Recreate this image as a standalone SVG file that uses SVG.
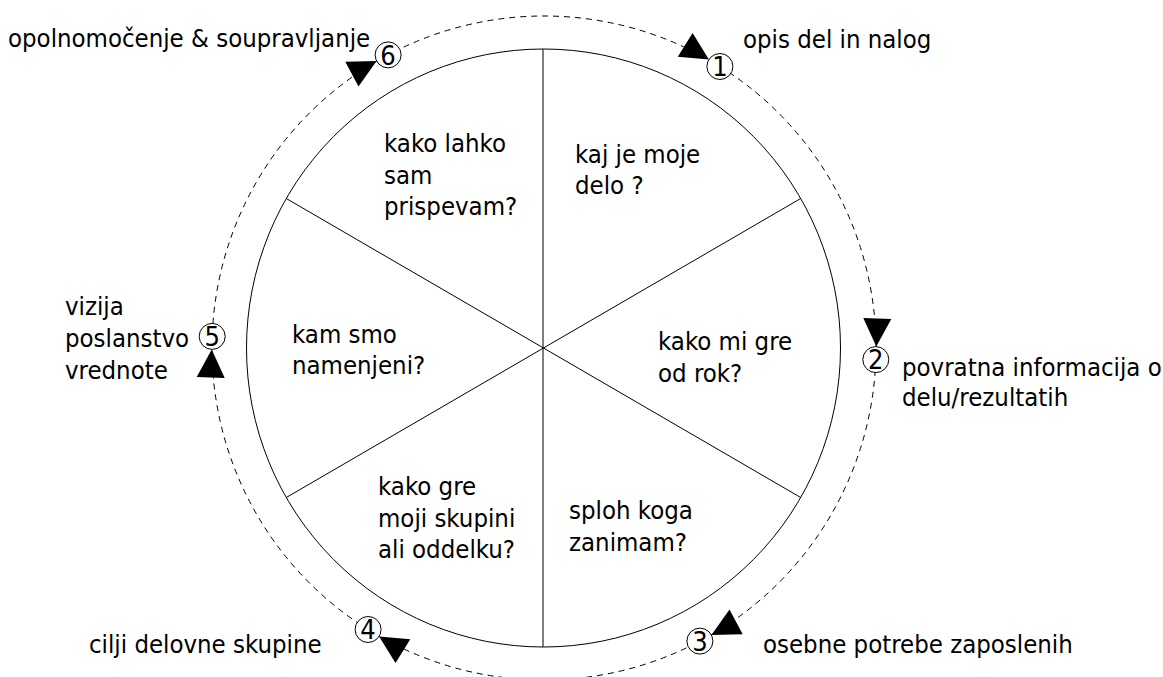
<svg xmlns="http://www.w3.org/2000/svg" width="1163" height="677" viewBox="0 0 1163 677">
<style>
text{font-family:"DejaVu Sans Condensed","DejaVu Sans",sans-serif;font-size:25.5px;fill:#000}
.num{font-size:27px;text-anchor:middle}
.node{fill:#fff;stroke:#000;stroke-width:1}
.arr{fill:#000;stroke:none}
.wheel{fill:none;stroke:#000;stroke-width:1}
</style>
<rect width="1163" height="677" fill="#fff"/>
<g id="connectors">
<circle cx="544" cy="348" r="332" fill="none" stroke="#000" stroke-width="1" stroke-dasharray="6 5"/>
<polygon class="arr" points="708.9,59.6 692.6,32.9 677.8,56.7"/>
<polygon class="arr" points="876.3,346.6 891.3,319.1 863.3,318.1"/>
<polygon class="arr" points="711.4,635 742.7,634.3 729.5,609.5"/>
<polygon class="arr" points="379.1,636.4 395.5,663.1 410.3,639.3"/>
<polygon class="arr" points="211.7,349.4 196.7,376.9 224.7,377.9"/>
<polygon class="arr" points="376.6,61 345.3,61.7 358.5,86.5"/>
</g>
<g id="wheel">
<ellipse class="wheel" cx="543.5" cy="348" rx="297" ry="299"/>
<line x1="543" y1="49" x2="543" y2="647" stroke="#000" stroke-width="1"/>
<line x1="286.3" y1="198.5" x2="800.7" y2="497.5" stroke="#000" stroke-width="1"/>
<line x1="286.3" y1="497.5" x2="800.7" y2="198.5" stroke="#000" stroke-width="1"/>
</g>
<g id="seg-top-right"><text x="575" y="162.5">kaj je moje</text><text x="575" y="194">delo ?</text></g>
<g id="seg-right"><text x="658" y="349.5">kako mi gre</text><text x="658" y="381.5">od rok?</text></g>
<g id="seg-bottom-right"><text x="569" y="518.5">sploh koga</text><text x="569" y="550.5">zanimam?</text></g>
<g id="seg-bottom-left"><text x="378" y="495">kako gre</text><text x="378" y="526.5">moji skupini</text><text x="378" y="558">ali oddelku?</text></g>
<g id="seg-left"><text x="292" y="343">kam smo</text><text x="292" y="374">namenjeni?</text></g>
<g id="seg-top-left"><text x="384" y="152">kako lahko</text><text x="384" y="183.5">sam</text><text x="384" y="215">prispevam?</text></g>
<g id="node1"><circle class="node" cx="719.9" cy="66.5" r="13"/><text class="num" x="719.9" y="76.3">1</text><text x="743" y="47.5">opis del in nalog</text></g>
<g id="node2"><circle class="node" cx="875.8" cy="359.6" r="13"/><text class="num" x="875.8" y="369.4">2</text><text x="902" y="375.5">povratna informacija o</text><text x="902" y="405.5">delu/rezultatih</text></g>
<g id="node3"><circle class="node" cx="699.9" cy="641.1" r="13"/><text class="num" x="699.9" y="650.9">3</text><text x="763" y="653">osebne potrebe zaposlenih</text></g>
<g id="node4"><circle class="node" cx="368.1" cy="629.5" r="13"/><text class="num" x="368.1" y="639.3">4</text><text x="89" y="653">cilji delovne skupine</text></g>
<g id="node5"><circle class="node" cx="212.2" cy="336.4" r="13"/><text class="num" x="212.2" y="346.2">5</text><text x="65" y="315">vizija</text><text x="65" y="347">poslanstvo</text><text x="65" y="379">vrednote</text></g>
<g id="node6"><circle class="node" cx="388.1" cy="54.9" r="13"/><text class="num" x="388.1" y="64.7">6</text><text x="8" y="47">opolnomočenje &amp; soupravljanje</text></g>
</svg>
